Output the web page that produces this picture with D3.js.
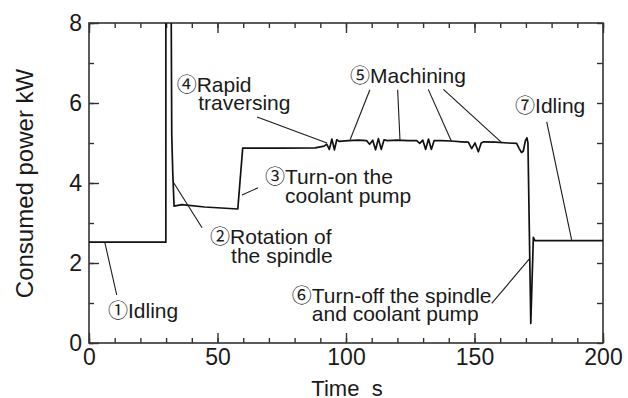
<!DOCTYPE html>
<html>
<head>
<meta charset="utf-8">
<script src="https://cdn.jsdelivr.net/npm/d3@7"></script>
<style>
  body { margin: 0; background: #fff; }
  svg { display: block; font-family: "Liberation Sans", Arial, Helvetica, sans-serif; }
  .axis text { font-size: 23px; fill: #1a1a1a; font-family: "Liberation Sans", Arial, sans-serif; }
  .axis line { stroke: #333; stroke-width: 1.4; }
  .axis path { display: none; }
  .note { font-size: 21px; fill: #1a1a1a; }
  .mark { font-family: "Noto Sans CJK JP", "DejaVu Sans", sans-serif; font-size: 20px; }
  .leader { stroke: #1a1a1a; stroke-width: 1.1; fill: none; }
</style>
</head>
<body>
<svg></svg>
<script>
const width = 628, height = 398;
const margin = { top: 23, right: 25, bottom: 55, left: 89 };
const innerWidth = width - margin.left - margin.right;
const innerHeight = height - margin.top - margin.bottom;

const times = [0, 29.9, 29.9, 31.9, 32.2, 32.6, 33.1, 36.1, 45, 57.9, 59.8, 75, 88, 91.5,
  92.5, 93.5, 94.5, 95.5, 96.4, 97.3, 101, 105,
  108.0, 109.2, 110.4, 111.5, 112.6, 113.7, 114.8, 116, 120, 124,
  127.5, 128.7, 129.9, 131.0, 132.1, 133.2, 134.3, 137, 141, 145,
  147.6, 148.9, 150.2, 151.5, 152.6, 153.6, 158, 163, 166.4,
  167.4, 168.3, 169.0, 169.8, 170.4, 170.8, 171.9, 172.9, 173.5, 185, 200];
const power = [2.52, 2.52, 9.5, 9.5, 5.2, 4.25, 3.42, 3.46, 3.4, 3.35, 4.87, 4.87, 4.88, 4.92,
  4.97, 4.84, 5.1, 4.83, 5.08, 5.04, 5.06, 5.07,
  5.06, 4.97, 5.07, 4.83, 5.11, 4.84, 5.08, 5.06, 5.07, 5.06,
  5.06, 4.99, 5.07, 4.84, 5.1, 4.84, 5.06, 5.06, 5.05, 5.03,
  5.02, 4.86, 5.0, 4.78, 5.0, 5.03, 5.02, 5.0, 4.99,
  4.86, 4.76, 4.8, 5.06, 5.13, 5.0, 0.49, 2.64, 2.56, 2.56, 2.56];

const xMajor = [0, 50, 100, 150, 200];
const yMajor = [0, 2, 4, 6, 8];

// annotation text: [circled mark, text, t, kW of baseline start]
const notes = [
  ["\u2460", "Idling", 7.4, 0.63],
  ["\u2461", "Rotation of", 47.1, 2.48],
  ["", "the spindle", 55.3, 2.01],
  ["\u2462", "Turn-on the", 68.5, 3.98],
  ["", "coolant pump", 76.3, 3.5],
  ["\u2463", "Rapid", 34.1, 6.28],
  ["", "traversing", 42.5, 5.83],
  ["\u2464", "Machining", 101.6, 6.49],
  ["\u2465", "Turn-off the spindle", 78.9, 0.99],
  ["", "and coolant pump", 86.7, 0.55],
  ["\u2466", "Idling", 165.8, 5.74]
];
// leader lines: [t1, kW1, t2, kW2]
const leaders = [
  [6.2, 2.5, 10.8, 1.2],
  [32.7, 4.03, 44.0, 2.88],
  [59.5, 3.7, 65.8, 3.88],
  [65.4, 5.65, 92.6, 5.0],
  [109.3, 6.33, 101.6, 5.08],
  [120.1, 6.33, 121.0, 5.08],
  [132.0, 6.34, 141.1, 5.03],
  [137.9, 6.34, 160.6, 5.01],
  [178.1, 5.53, 187.8, 2.58],
  [156.7, 0.99, 171.6, 2.12]
];

const svg = d3.select("svg")
    .attr("width", width)
    .attr("height", height);

const g = svg.append("g")
    .attr("transform", `translate(${margin.left},${margin.top})`);

const xScale = d3.scaleLinear().domain([0, 200]).range([0, innerWidth]);
const yScale = d3.scaleLinear().domain([0, 8]).range([innerHeight, 0]);

const tickOnly = sel => sel.selectAll("text").remove();

// minor ticks
g.append("g").attr("class", "axis")
    .attr("transform", `translate(0,${innerHeight})`)
    .call(d3.axisBottom(xScale).tickValues(xScale.ticks(20)).tickSize(-5))
    .call(tickOnly);
g.append("g").attr("class", "axis")
    .call(d3.axisTop(xScale).tickValues(xScale.ticks(20)).tickSize(-5))
    .call(tickOnly);
g.append("g").attr("class", "axis")
    .call(d3.axisLeft(yScale).tickValues(yScale.ticks(8)).tickSize(-5))
    .call(tickOnly);
g.append("g").attr("class", "axis")
    .attr("transform", `translate(${innerWidth},0)`)
    .call(d3.axisRight(yScale).tickValues(yScale.ticks(8)).tickSize(-6))
    .call(tickOnly);

// major ticks with labels
g.append("g").attr("class", "axis")
    .attr("transform", `translate(0,${innerHeight})`)
    .call(d3.axisBottom(xScale).tickValues(xMajor).tickSize(-10).tickPadding(6));
g.append("g").attr("class", "axis")
    .call(d3.axisTop(xScale).tickValues(xMajor).tickSize(-10))
    .call(tickOnly);
g.append("g").attr("class", "axis")
    .call(d3.axisLeft(yScale).tickValues(yMajor).tickSize(-10).tickPadding(7));

g.append("rect")
    .attr("width", innerWidth)
    .attr("height", innerHeight)
    .attr("fill", "none")
    .attr("stroke", "#333")
    .attr("stroke-width", 1.6);

g.append("clipPath").attr("id", "plot-clip")
  .append("rect").attr("width", innerWidth).attr("height", innerHeight);

const line = d3.line()
    .x((d, i) => xScale(times[i]))
    .y(d => yScale(d));

g.append("path")
    .datum(power)
    .attr("clip-path", "url(#plot-clip)")
    .attr("fill", "none")
    .attr("stroke", "#111")
    .attr("stroke-width", 1.7)
    .attr("stroke-linejoin", "round")
    .attr("d", line);

g.selectAll(".leader")
    .data(leaders)
    .enter().append("line")
    .attr("class", "leader")
    .attr("x1", d => xScale(d[0]))
    .attr("y1", d => yScale(d[1]))
    .attr("x2", d => xScale(d[2]))
    .attr("y2", d => yScale(d[3]));

const noteText = g.selectAll(".note")
    .data(notes)
    .enter().append("text")
    .attr("class", "note")
    .attr("x", d => xScale(d[2]))
    .attr("y", d => yScale(d[3]));
noteText.filter(d => d[0]).append("tspan").attr("class", "mark").text(d => d[0]);
noteText.append("tspan").text(d => d[1]);

svg.append("text")
    .attr("transform", `translate(33,${margin.top + innerHeight / 2 + 0.5}) rotate(-90)`)
    .attr("text-anchor", "middle")
    .attr("font-size", 24)
    .attr("fill", "#1a1a1a")
    .text("Consumed power kW");

svg.append("text")
    .attr("x", margin.left + innerWidth / 2 + 1)
    .attr("y", 396)
    .attr("text-anchor", "middle")
    .attr("font-size", 22)
    .attr("fill", "#1a1a1a")
    .text("Time\u00a0\u00a0s");
</script>
</body>
</html>
